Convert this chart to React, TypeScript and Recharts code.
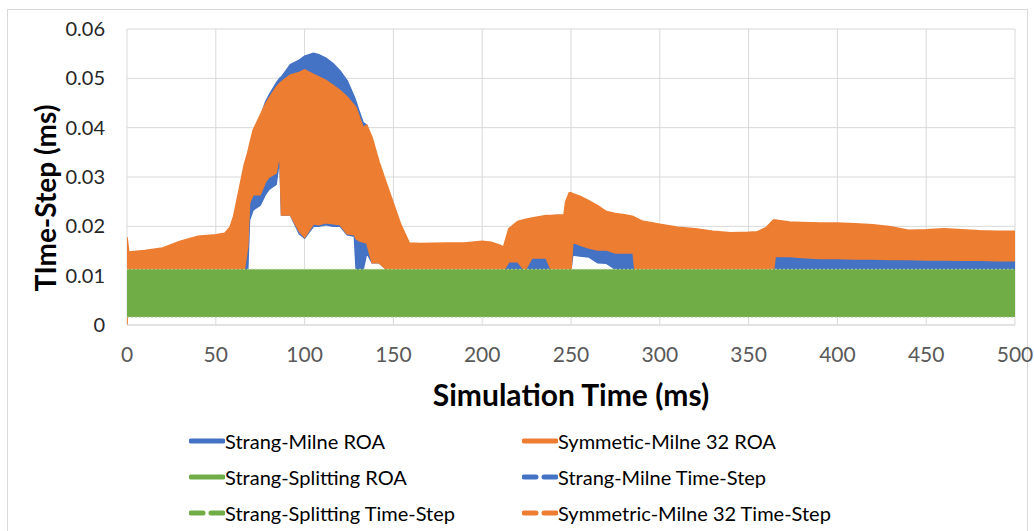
import React from "react";
import { ComposedChart, Area, XAxis, YAxis, CartesianGrid } from "recharts";

// simulation time (ms) at which the band edges were sampled
const timeMs = [
  0, 1, 10, 20, 30, 40, 50, 55, 58, 60, 63, 66, 68, 69, 71, 75, 78, 80, 84, 86,
  87, 88, 92, 97, 100, 105, 108, 112, 116, 120, 124, 128, 129, 131, 133, 135,
  138, 142, 146, 150, 154, 159, 165, 180, 190, 200, 205, 210, 212, 215, 220,
  224, 228, 236, 239, 242, 246, 247, 249, 250, 251, 255, 260, 265, 270, 275,
  281, 285, 286, 290, 300, 310, 320, 330, 340, 350, 355, 360, 364, 365, 373,
  380, 390, 400, 410, 420, 430, 440, 450, 460, 470, 480, 490, 500,
];

// Symmetic-Milne 32: upper and lower edge of the oscillating time-step
const symHigh = [
  0.0178, 0.0148, 0.0151, 0.0156, 0.017, 0.018, 0.0183, 0.0186, 0.0198, 0.022,
  0.0272, 0.0325, 0.035, 0.0365, 0.0395, 0.0425, 0.0448, 0.046, 0.0482, 0.049,
  0.0493, 0.0496, 0.0507, 0.0512, 0.0517, 0.0508, 0.0503, 0.0496, 0.0486,
  0.0475, 0.0462, 0.0445, 0.044, 0.042, 0.04, 0.0405, 0.038, 0.033, 0.0288,
  0.0247, 0.0205, 0.0166, 0.0165, 0.0166, 0.0166, 0.017, 0.0168, 0.0162,
  0.0158, 0.0195, 0.021, 0.0214, 0.0217, 0.0222, 0.0222, 0.0223, 0.0223, 0.025,
  0.0268, 0.0268, 0.0266, 0.0261, 0.0252, 0.0242, 0.023, 0.0226, 0.0223, 0.022,
  0.0218, 0.0211, 0.0204, 0.0198, 0.0195, 0.019, 0.0187, 0.0188, 0.0189,
  0.0198, 0.0213, 0.0213, 0.0209, 0.0208, 0.0207, 0.0207, 0.0205, 0.0203,
  0.0199, 0.0192, 0.0193, 0.0195, 0.0193, 0.0191, 0.019, 0.019,
];
const symLow = [
  0, 0.011, 0.011, 0.011, 0.011, 0.011, 0.011, 0.011, 0.011, 0.011, 0.011,
  0.011, 0.016, 0.0247, 0.0264, 0.0264, 0.029, 0.03, 0.0308, 0.0349, 0.0223,
  0.0223, 0.0223, 0.019, 0.0178, 0.0205, 0.0203, 0.0207, 0.0205, 0.0203,
  0.0185, 0.0183, 0.0175, 0.017, 0.0168, 0.0166, 0.0126, 0.0126, 0.0113,
  0.011, 0.011, 0.011, 0.011, 0.011, 0.011, 0.011, 0.011, 0.011, 0.011, 0.0128,
  0.0128, 0.011, 0.0136, 0.0136, 0.011, 0.011, 0.011, 0.011, 0.011, 0.011,
  0.0168, 0.0162, 0.0156, 0.0152, 0.0152, 0.0146, 0.0146, 0.0146, 0.011, 0.011,
  0.011, 0.011, 0.011, 0.011, 0.011, 0.011, 0.011, 0.011, 0.011, 0.0139,
  0.0139, 0.0137, 0.0135, 0.0135, 0.0134, 0.0134, 0.0133, 0.0133, 0.0132,
  0.0132, 0.0131, 0.0131, 0.013, 0.013,
];

// Strang-Milne: upper and lower edge
const strangHigh = [
  0.014, 0.014, 0.014, 0.0145, 0.015, 0.016, 0.0165, 0.017, 0.018, 0.02, 0.025,
  0.03, 0.033, 0.0345, 0.038, 0.042, 0.0452, 0.0466, 0.049, 0.05, 0.0503,
  0.0508, 0.0528, 0.0537, 0.0545, 0.0551, 0.0548, 0.0541, 0.053, 0.0515,
  0.0495, 0.0462, 0.0452, 0.043, 0.041, 0.0405, 0.0375, 0.032, 0.028, 0.024,
  0.0195, 0.0155, 0.015, 0.015, 0.015, 0.015, 0.015, 0.015, 0.015, 0.018,
  0.019, 0.0195, 0.0195, 0.02, 0.02, 0.02, 0.02, 0.02, 0.02, 0.02, 0.019,
  0.0185, 0.018, 0.0175, 0.0175, 0.017, 0.017, 0.017, 0.017, 0.017, 0.017,
  0.017, 0.017, 0.017, 0.017, 0.017, 0.017, 0.017, 0.017, 0.016, 0.016, 0.016,
  0.016, 0.016, 0.016, 0.016, 0.016, 0.016, 0.016, 0.016, 0.016, 0.016, 0.016,
  0.016,
];
const strangLow = [
  0.0113, 0.0113, 0.0113, 0.0113, 0.0113, 0.0113, 0.0113, 0.0113, 0.0113,
  0.0113, 0.0113, 0.0113, 0.0113, 0.0213, 0.0233, 0.0243, 0.0265, 0.0275,
  0.0285, 0.034, 0.0223, 0.0223, 0.0223, 0.0185, 0.0176, 0.02, 0.02, 0.0203,
  0.02, 0.02, 0.0183, 0.018, 0.0113, 0.0113, 0.0113, 0.0146, 0.0126, 0.0126,
  0.0113, 0.0113, 0.0113, 0.0113, 0.0113, 0.0113, 0.0113, 0.0113, 0.0113,
  0.0113, 0.0113, 0.0113, 0.0113, 0.0113, 0.0113, 0.0113, 0.0113, 0.0113,
  0.0113, 0.0113, 0.0113, 0.0113, 0.0142, 0.014, 0.0138, 0.0126, 0.0125,
  0.0113, 0.0113, 0.0113, 0.0113, 0.0113, 0.0113, 0.0113, 0.0113, 0.0113,
  0.0113, 0.0113, 0.0113, 0.0113, 0.0113, 0.0113, 0.0113, 0.0113, 0.0113,
  0.0113, 0.0113, 0.0113, 0.0113, 0.0113, 0.0113, 0.0113, 0.0113, 0.0113,
  0.0113, 0.0113,
];

// Strang-Splitting stays in a flat band over the whole run
const splitTime = [0, 500];
const splitLow = [0.0016, 0.0016];
const splitHigh = [0.0113, 0.0113];

const xTicks = [0, 50, 100, 150, 200, 250, 300, 350, 400, 450, 500];
const yTicks = [0, 0.01, 0.02, 0.03, 0.04, 0.05, 0.06];

const legendItems = [
  { name: "Strang-Milne ROA", color: "#4472C4", dashed: false },
  { name: "Symmetic-Milne 32 ROA", color: "#ED7D31", dashed: false },
  { name: "Strang-Splitting ROA", color: "#70AD47", dashed: false },
  { name: "Strang-Milne Time-Step", color: "#4472C4", dashed: true },
  { name: "Strang-Splitting Time-Step", color: "#70AD47", dashed: true },
  { name: "Symmetric-Milne 32 Time-Step", color: "#ED7D31", dashed: true },
];

const rows = timeMs.map((t, i) => ({
  t,
  sym: [symLow[i], symHigh[i]],
  strang: [strangLow[i], strangHigh[i]],
}));

const splitRows = splitTime.map((t, i) => ({
  t,
  split: [splitLow[i], splitHigh[i]],
}));

const FONT = "Lato, 'Open Sans', sans-serif";

function LegendMarker({ color, dashed }: { color: string; dashed: boolean }) {
  return (
    <svg width={36} height={10} style={{ display: "block" }}>
      {dashed ? (
        <>
          <line x1={2} y1={5} x2={14} y2={5} stroke={color} strokeWidth={5} strokeLinecap="round" />
          <line x1={22} y1={5} x2={34} y2={5} stroke={color} strokeWidth={5} strokeLinecap="round" />
        </>
      ) : (
        <line x1={2} y1={5} x2={34} y2={5} stroke={color} strokeWidth={5} strokeLinecap="round" />
      )}
    </svg>
  );
}

function ChartLegend() {
  const colX = [189, 522];
  const rowY = [441, 477, 513];
  return (
    <>
      {legendItems.map((item, i) => (
        <div
          key={item.name}
          style={{
            position: "absolute",
            left: colX[i % 2],
            top: rowY[Math.floor(i / 2)] - 13,
            height: 26,
            display: "flex",
            alignItems: "center",
            fontFamily: FONT,
            fontSize: 20,
            color: "#000",
            whiteSpace: "nowrap",
          }}
        >
          <LegendMarker color={item.color} dashed={item.dashed} />
          <span>{item.name}</span>
        </div>
      ))}
    </>
  );
}

export default function App() {
  return (
    <div
      style={{
        position: "absolute",
        left: 0,
        top: 0,
        width: 1034,
        height: 531,
        background: "#fff",
        overflow: "hidden",
      }}
    >
      <div
        style={{
          position: "absolute",
          left: 7,
          top: 9,
          width: 1019,
          height: 540,
          border: "1px solid #d9d9d9",
        }}
      />
      <ComposedChart
        width={1034}
        height={531}
        data={rows}
        margin={{ top: 29, right: 19, left: 0, bottom: 166 }}
        style={{ position: "absolute", left: 0, top: 0 }}
      >
        <CartesianGrid stroke="#d9d9d9" strokeWidth={1} />
        <XAxis
          dataKey="t"
          type="number"
          domain={[0, 500]}
          ticks={xTicks}
          height={40}
          axisLine={{ stroke: "#d9d9d9" }}
          tickLine={false}
          tickSize={8}
          tickMargin={14}
          tick={{ fontSize: 21, fill: "#595959", fontFamily: FONT }}
          allowDataOverflow
        />
        <YAxis
          type="number"
          domain={[0, 0.06]}
          ticks={yTicks}
          width={127}
          axisLine={false}
          tickLine={false}
          tickSize={8}
          tickMargin={14}
          tick={{ fontSize: 20, fill: "#262626", fontFamily: FONT }}
          tickFormatter={(v: number) => (v === 0 ? "0" : v.toFixed(2))}
          allowDataOverflow
        />
        <Area
          dataKey="strang"
          type="linear"
          fill="#4472C4"
          fillOpacity={1}
          stroke="#4472C4"
          strokeWidth={1.5}
          isAnimationActive={false}
        />
        <Area
          dataKey="sym"
          type="linear"
          fill="#ED7D31"
          fillOpacity={1}
          stroke="#ED7D31"
          strokeWidth={1.5}
          isAnimationActive={false}
        />
        <Area
          data={splitRows}
          dataKey="split"
          type="linear"
          fill="#70AD47"
          fillOpacity={1}
          stroke="#a9d18e"
          strokeWidth={1}
          strokeDasharray="2 2"
          isAnimationActive={false}
        />
      </ComposedChart>
      <div
        style={{
          position: "absolute",
          left: 45,
          top: 198,
          transform: "translate(-50%, -50%) rotate(-90deg)",
          fontFamily: FONT,
          fontWeight: 700,
          fontSize: 28,
          color: "#000",
          whiteSpace: "nowrap",
        }}
      >
        TIme-Step (ms)
      </div>
      <div
        style={{
          position: "absolute",
          left: 571,
          top: 394,
          transform: "translate(-50%, -50%)",
          fontFamily: FONT,
          fontWeight: 700,
          fontSize: 30,
          color: "#000",
          whiteSpace: "nowrap",
        }}
      >
        Simulation Time (ms)
      </div>
      <ChartLegend />
    </div>
  );
}
